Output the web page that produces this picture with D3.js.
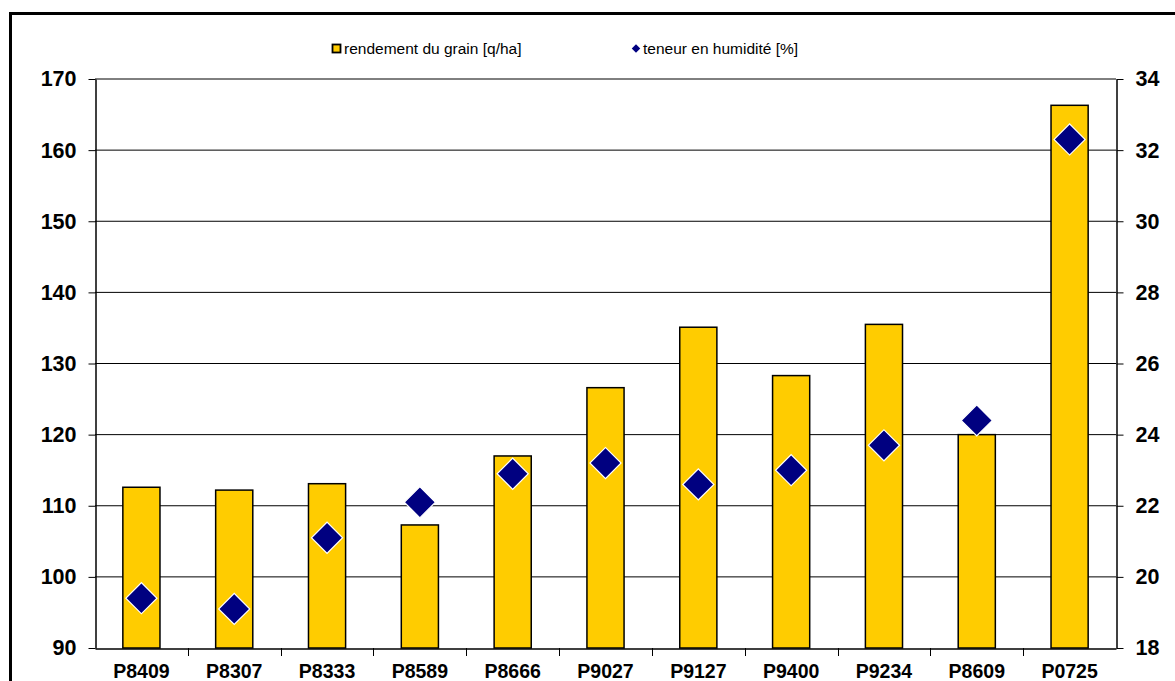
<!DOCTYPE html>
<html><head><meta charset="utf-8">
<script src="https://cdn.jsdelivr.net/npm/d3@7"></script>
<style>body{margin:0;background:#fff}svg{display:block}</style>
</head><body>
<svg id="c" width="1175" height="681"></svg>
<script>
const categories = ["P8409","P8307","P8333","P8589","P8666","P9027","P9127","P9400","P9234","P8609","P0725"];
const yieldValues = [112.6,112.2,113.1,107.3,117.0,126.6,135.1,128.3,135.5,120.0,166.3];
const moistureValues = [19.4,19.1,21.1,22.1,22.9,23.2,22.6,23.0,23.7,24.4,32.3];
const leftTicks = [90,100,110,120,130,140,150,160,170];
const rightTicks = [18,20,22,24,26,28,30,32,34];
const seriesNames = ["rendement du grain [q/ha]","teneur en humidité [%]"];

const svg = d3.select("#c");
const L = 95, R = 1116, T = 79, B = 648;

svg.append("rect").attr("x",10.5).attr("y",13.5).attr("width",1200).attr("height",700)
  .attr("fill","none").attr("stroke","#000").attr("stroke-width",3);

const xb = d3.scaleBand().domain(categories).range([L,R]);
const yL = d3.scaleLinear().domain([90,170]).range([B,T]);
const yR = d3.scaleLinear().domain([18,34]).range([B,T]);

// gridlines
svg.append("g").selectAll("line").data(leftTicks.slice(1)).join("line")
  .attr("x1",L).attr("x2",R).attr("y1",d=>yL(d)).attr("y2",d=>yL(d))
  .attr("stroke","#000").attr("stroke-width",1);

// bars
const bw = xb.bandwidth()*0.4;
svg.append("g").selectAll("rect").data(categories).join("rect")
  .attr("x",(d)=>xb(d)+xb.bandwidth()/2-bw/2)
  .attr("y",(d,i)=>yL(yieldValues[i]))
  .attr("width",bw)
  .attr("height",(d,i)=>B-yL(yieldValues[i]))
  .attr("fill","#FFCC00").attr("stroke","#000").attr("stroke-width",1.5);

// axes
const axL = svg.append("g").attr("transform",`translate(${L+0.5},0)`)
  .call(d3.axisLeft(yL).tickValues(leftTicks).tickSize(7).tickPadding(12).tickSizeOuter(0));
const axR = svg.append("g").attr("transform",`translate(${R+0.5},0)`)
  .call(d3.axisRight(yR).tickValues(rightTicks).tickSize(7).tickPadding(12).tickSizeOuter(0));
const axB = svg.append("g").attr("transform",`translate(0,${B+0.5})`)
  .call(d3.axisBottom(xb).tickSize(0).tickPadding(16).tickSizeOuter(0));
axB.selectAll(".tick line").remove();
// category separator ticks
svg.append("g").selectAll("line").data(categories.slice(1)).join("line")
  .attr("x1",d=>Math.round(xb(d))+0.5).attr("x2",d=>Math.round(xb(d))+0.5)
  .attr("y1",B).attr("y2",B+8).attr("stroke","#000");

[axL,axR,axB].forEach(a=>{
  a.selectAll(".domain").attr("stroke","#000").attr("stroke-width",1.5);
  a.selectAll(".tick line").attr("stroke","#000");
  a.selectAll("text").attr("font-family","'Liberation Sans', Arial, sans-serif")
    .attr("font-weight","bold").attr("fill","#000");
});
axL.selectAll("text").attr("font-size",21.5);
axR.selectAll("text").attr("font-size",21.5);
axB.selectAll("text").attr("font-size",19.5);

// diamonds
svg.append("g").selectAll("path").data(categories).join("path")
  .attr("transform",(d,i)=>`translate(${xb(d)+xb.bandwidth()/2},${yR(moistureValues[i])}) rotate(45)`)
  .attr("d",d3.symbol().type(d3.symbolSquare).size(22*22))
  .attr("fill","#000080").attr("stroke","#fff").attr("stroke-width",1.2);

// legend
const lg = svg.append("g").attr("font-family","'Liberation Sans', Arial, sans-serif").attr("font-size",15.5);
lg.append("rect").attr("x",332.5).attr("y",44.5).attr("width",8).attr("height",8)
  .attr("fill","#FFCC00").attr("stroke","#000").attr("stroke-width",1.8);
lg.append("text").attr("x",344).attr("y",54).text(seriesNames[0]);
lg.append("path").attr("transform","translate(636,48.5) rotate(45)")
  .attr("d",d3.symbol().type(d3.symbolSquare).size(36)).attr("fill","#000080");
lg.append("text").attr("x",643).attr("y",54).text(seriesNames[1]);
</script>
</body></html>
